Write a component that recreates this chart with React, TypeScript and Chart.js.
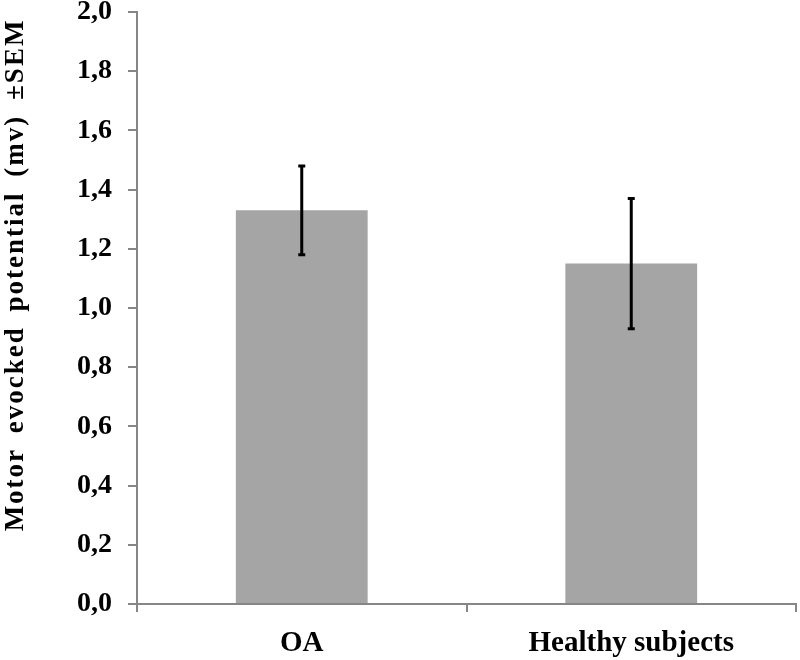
import React, { useEffect, useRef } from "react";
import { Chart, registerables } from "chart.js";

Chart.register(...registerables);

const categories = ["OA", "Healthy subjects"];
const meanValues = [1.33, 1.15];
const semValues = [0.15, 0.22];
const yTitle = "Motor evocked potential (mv) \u00B1SEM";

const FONT = "'Liberation Serif', 'Times New Roman', serif";
const AXIS = "#868686";

const errorBars = {
  id: "errorBars",
  afterDatasetsDraw(chart: any) {
    const meta = chart.getDatasetMeta(0);
    const y = chart.scales.y;
    const ctx = chart.ctx;
    ctx.save();
    ctx.strokeStyle = "#000";
    ctx.lineWidth = 3;
    meta.data.forEach((bar: any, i: number) => {
      const x = bar.x;
      const top = y.getPixelForValue(meanValues[i] + semValues[i]);
      const bot = y.getPixelForValue(meanValues[i] - semValues[i]);
      ctx.beginPath();
      ctx.moveTo(x, top);
      ctx.lineTo(x, bot);
      ctx.moveTo(x - 3.5, top);
      ctx.lineTo(x + 3.5, top);
      ctx.moveTo(x - 3.5, bot);
      ctx.lineTo(x + 3.5, bot);
      ctx.stroke();
    });
    ctx.restore();
  },
};

const yTitlePlugin = {
  id: "yTitlePlugin",
  afterDraw(chart: any) {
    const ctx = chart.ctx;
    ctx.save();
    ctx.translate(16, 275);
    ctx.rotate(-Math.PI / 2);
    ctx.font = `bold 27px ${FONT}`;
    (ctx as any).letterSpacing = "2px";
    (ctx as any).wordSpacing = "6px";
    ctx.fillStyle = "#000";
    ctx.textAlign = "center";
    ctx.textBaseline = "middle";
    ctx.fillText(yTitle, 0, 0);
    ctx.restore();
  },
};

export default function App() {
  const ref = useRef<HTMLCanvasElement>(null);
  useEffect(() => {
    if (!ref.current) return;
    const chart = new Chart(ref.current, {
      type: "bar",
      data: {
        labels: categories,
        datasets: [
          {
            data: meanValues,
            backgroundColor: "#a5a5a5",
            borderWidth: 0,
            categoryPercentage: 1,
            barPercentage: 0.4,
          },
        ],
      },
      plugins: [errorBars, yTitlePlugin],
      options: {
        responsive: false,
        animation: false,
        layout: { padding: { left: 0, top: 12, right: 4, bottom: 0 } },
        plugins: { legend: { display: false }, tooltip: { enabled: false } },
        scales: {
          x: {
            grid: {
              offset: true,
              drawOnChartArea: false,
              drawTicks: true,
              tickLength: 8,
              color: AXIS,
              lineWidth: 2,
            },
            border: { color: AXIS, width: 2 },
            ticks: {
              color: "#000",
              padding: 14,
              font: { family: FONT, size: 29, weight: "bold" },
            },
            afterFit(scale: any) {
              scale.height = 56;
            },
          },
          y: {
            min: 0,
            max: 2,
            grid: {
              drawOnChartArea: false,
              drawTicks: true,
              tickLength: 9,
              color: AXIS,
              lineWidth: 2,
            },
            border: { color: AXIS, width: 2 },
            ticks: {
              stepSize: 0.2,
              color: "#000",
              padding: 16,
              font: { family: FONT, size: 28, weight: "bold", lineHeight: 1 },
              callback: (v: any) => Number(v).toFixed(1).replace(".", ","),
            },
            afterFit(scale: any) {
              scale.width = 137;
              scale.paddingTop = 0;
              scale.paddingBottom = 0;
            },
          },
        },
      },
    });
    return () => chart.destroy();
  }, []);
  return (
    <div style={{ position: "absolute", left: 0, top: 0, width: 800, height: 660, background: "#fff" }}>
      <canvas ref={ref} width={800} height={660} />
    </div>
  );
}
